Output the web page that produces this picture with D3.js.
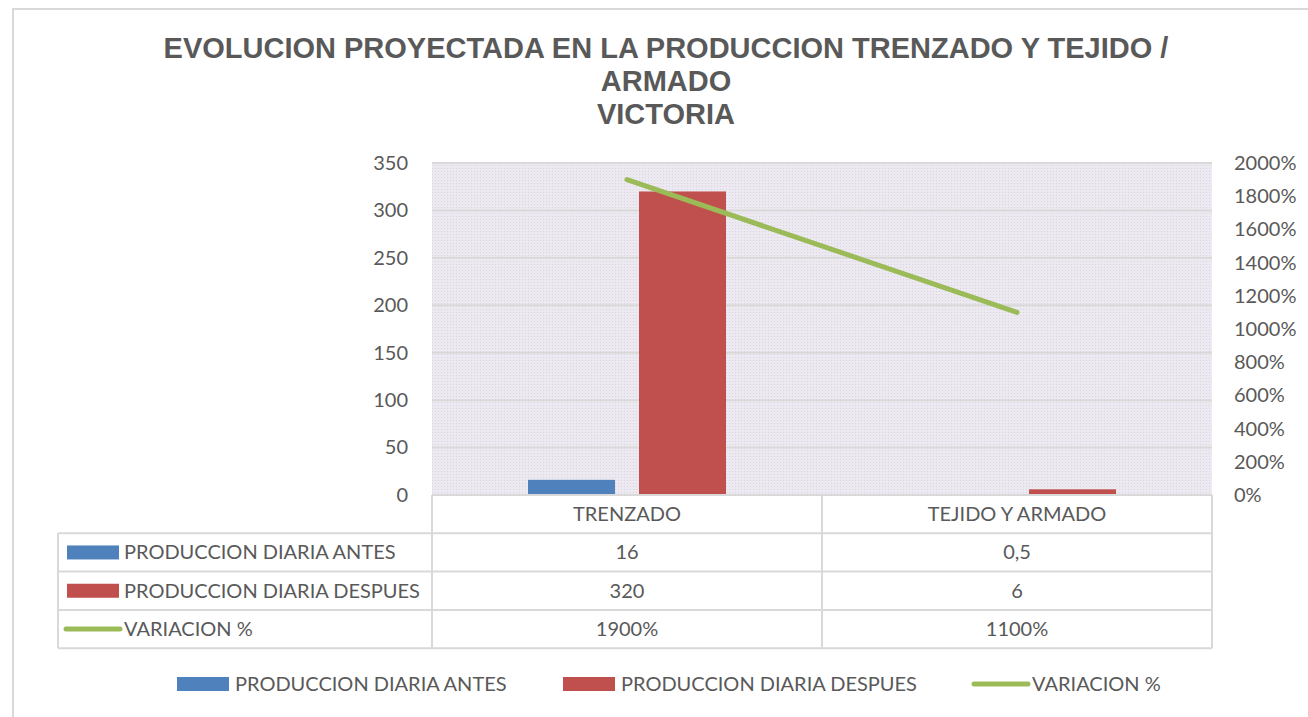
<!DOCTYPE html>
<html>
<head>
<meta charset="utf-8">
<script src="https://cdn.jsdelivr.net/npm/d3@7"></script>
<style>
  body { margin: 0; background: #fff; }
  svg { display: block; }
</style>
</head>
<body>
<svg id="chart" width="1308" height="717"></svg>
<script>
// data
var categories = ["TRENZADO", "TEJIDO Y ARMADO"];
var antes = [16, 0.5];
var despues = [320, 6];
var variacion = [19, 11]; // 1900%, 1100%
var seriesNames = ["PRODUCCION DIARIA ANTES", "PRODUCCION DIARIA DESPUES", "VARIACION %"];
var leftTicks = [0, 50, 100, 150, 200, 250, 300, 350];
var rightTicks = [0, 2, 4, 6, 8, 10, 12, 14, 16, 18, 20];
var titleLines = ["EVOLUCION PROYECTADA EN LA PRODUCCION TRENZADO Y TEJIDO /", "ARMADO", "VICTORIA"];

var colors = ["#4f81bd", "#c0504d", "#9bbb59"];
var textColor = "#595959", gridColor = "#d9d9d9";
var font = "Lato, 'Open Sans', sans-serif";

var plot = { left: 432, right: 1212, top: 163, bottom: 495 };
var tableLeft = 58, rowH = 38.3;

var locale = d3.formatLocale({ decimal: ",", thousands: ".", grouping: [3], currency: ["", ""] });
var fmtNum = v => locale.format("~g")(v);
var fmtPct = v => Math.round(v * 100) + "%";

var svg = d3.select("#chart");

// outer chart border
svg.append("rect")
	.attr("x", 13).attr("y", 9)
	.attr("width", 1320).attr("height", 720)
	.attr("fill", "#fff")
	.attr("stroke", gridColor)
	.attr("stroke-width", 2);

// title
var title = svg.append("text")
	.attr("text-anchor", "middle")
	.attr("font-family", "'Liberation Sans', Arial, sans-serif")
	.attr("font-weight", "bold")
	.attr("font-size", "29px")
	.attr("fill", textColor);
titleLines.forEach((t, i) => {
	title.append("tspan").attr("x", 666).attr("y", 58 + i * 33).text(t);
});

// plot background pattern
var defs = svg.append("defs");
var pat = defs.append("pattern")
	.attr("id", "dots")
	.attr("width", 3).attr("height", 3)
	.attr("patternUnits", "userSpaceOnUse");
pat.append("rect").attr("width", 3).attr("height", 3).attr("fill", "#ede9f1");
pat.append("rect").attr("width", 1).attr("height", 1).attr("fill", "#d9d3e1");

svg.append("rect")
	.attr("x", plot.left).attr("y", plot.top)
	.attr("width", plot.right - plot.left)
	.attr("height", plot.bottom - plot.top)
	.attr("fill", "url(#dots)");

var x = d3.scaleBand().domain(categories).range([plot.left, plot.right]);
var xs = d3.scaleBand().domain([0, 1]).range([0, x.bandwidth()])
	.paddingInner(0.216).paddingOuter(0.865);
var y = d3.scaleLinear().domain([0, 350]).range([plot.bottom, plot.top]);
var y2 = d3.scaleLinear().domain([0, 20]).range([plot.bottom, plot.top]);

// gridlines
svg.append("g")
	.selectAll("line")
	.data(leftTicks.slice(1))
	.enter().append("line")
	.attr("x1", plot.left).attr("x2", plot.right)
	.attr("y1", d => y(d)).attr("y2", d => y(d))
	.attr("stroke", gridColor)
	.attr("stroke-width", 2);

// axes
var yAxis = d3.axisLeft(y).tickValues(leftTicks).tickSize(0).tickPadding(24);
var yAxis2 = d3.axisRight(y2).tickValues(rightTicks).tickSize(0).tickPadding(22).tickFormat(fmtPct);

svg.append("g")
	.attr("class", "yAxis")
	.attr("transform", `translate(${plot.left}, 0)`)
	.call(yAxis);
svg.append("g")
	.attr("class", "yAxis2")
	.attr("transform", `translate(${plot.right}, 0)`)
	.call(yAxis2);
svg.selectAll(".yAxis .domain, .yAxis2 .domain").remove();
svg.selectAll(".yAxis text, .yAxis2 text")
	.attr("font-family", font)
	.attr("font-size", "20px")
	.attr("fill", textColor);

// bars
var barSeries = [antes, despues];
barSeries.forEach((vals, s) => {
	svg.append("g")
		.selectAll(".bar")
		.data(categories)
		.enter().append("rect")
		.attr("class", "bar")
		.attr("x", (d, i) => x(d) + xs(s))
		.attr("width", xs.bandwidth())
		.attr("y", (d, i) => y(vals[i]))
		.attr("height", (d, i) => plot.bottom - y(vals[i]))
		.attr("fill", colors[s]);
});

// line
var line = d3.line()
	.x((d, i) => x(categories[i]) + x.bandwidth() / 2)
	.y(d => y2(d));
svg.append("path")
	.datum(variacion)
	.attr("d", line)
	.attr("fill", "none")
	.attr("stroke", colors[2])
	.attr("stroke-width", 5)
	.attr("stroke-linecap", "round");

// data table
var table = svg.append("g").attr("class", "table");
var rowY = i => plot.bottom + rowH * i; // row 0 = category header
var tableBottom = rowY(4);

// horizontal lines
table.append("line")
	.attr("x1", plot.left).attr("x2", plot.right)
	.attr("y1", plot.bottom).attr("y2", plot.bottom);
[1, 2, 3, 4].forEach(r => {
	table.append("line")
		.attr("x1", tableLeft).attr("x2", plot.right)
		.attr("y1", rowY(r)).attr("y2", rowY(r));
});
// vertical lines
table.append("line")
	.attr("x1", tableLeft).attr("x2", tableLeft)
	.attr("y1", rowY(1)).attr("y2", tableBottom);
categories.forEach(c => {
	table.append("line")
		.attr("x1", x(c)).attr("x2", x(c))
		.attr("y1", plot.bottom).attr("y2", tableBottom);
});
table.append("line")
	.attr("x1", plot.right).attr("x2", plot.right)
	.attr("y1", plot.bottom).attr("y2", tableBottom);
table.selectAll("line")
	.attr("stroke", gridColor)
	.attr("stroke-width", 2);

function cell(g, tx, ty, txt, anchor) {
	g.append("text")
		.attr("x", tx).attr("y", ty)
		.attr("dy", "0.35em")
		.attr("text-anchor", anchor || "middle")
		.attr("font-family", font)
		.attr("font-size", "20px")
		.attr("fill", textColor)
		.text(txt);
}

categories.forEach(c => cell(table, x(c) + x.bandwidth() / 2, rowY(0) + rowH / 2, c));
var rows = [antes.map(fmtNum), despues.map(fmtNum), variacion.map(fmtPct)];
rows.forEach((vals, r) => {
	var cy = rowY(r + 1) + rowH / 2;
	vals.forEach((v, i) => cell(table, x(categories[i]) + x.bandwidth() / 2, cy, v));
	cell(table, 124, cy, seriesNames[r], "start");
});

function key(g, kx, ky, s) {
	if (s < 2) {
		g.append("rect")
			.attr("x", kx).attr("y", ky - 7)
			.attr("width", 52).attr("height", 14)
			.attr("fill", colors[s]);
	} else {
		g.append("line")
			.attr("x1", kx).attr("x2", kx + 54)
			.attr("y1", ky).attr("y2", ky)
			.attr("stroke", colors[s])
			.attr("stroke-width", 5)
			.attr("stroke-linecap", "round");
	}
}
[0, 1, 2].forEach(s => key(table, s < 2 ? 67 : 66, rowY(s + 1) + rowH / 2, s));

// bottom legend
var legend = svg.append("g").attr("class", "legend");
var legendX = [177, 563, 974];
seriesNames.forEach((n, s) => {
	key(legend, legendX[s], 684, s);
	cell(legend, legendX[s] + 58, 684, n, "start");
});
</script>
</body>
</html>
